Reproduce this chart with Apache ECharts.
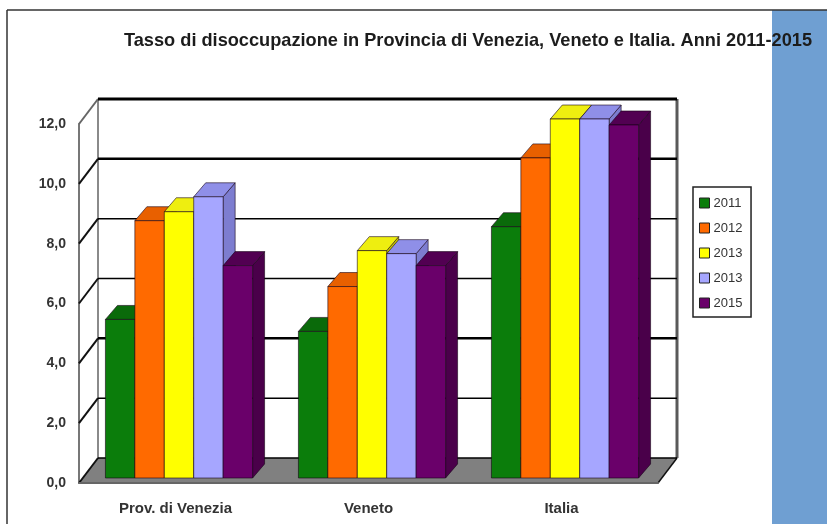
<!DOCTYPE html>
<html><head><meta charset="utf-8">
<style>html,body{margin:0;padding:0;background:#fff}#c{width:827px;height:524px}</style>
<script src="https://cdn.jsdelivr.net/npm/echarts@6/dist/echarts.min.js"></script>
</head><body><div id="c"></div>
<script>
const categories = ["Prov. di Venezia", "Veneto", "Italia"];
const seriesNames = ["2011", "2012", "2013", "2013 ", "2015"];
const v2011 = [5.3, 4.9, 8.4];
const v2012 = [8.6, 6.4, 10.7];
const v2013a = [8.9, 7.6, 12.0];
const v2013b = [9.4, 7.5, 12.0];
const v2015 = [7.1, 7.1, 11.8];
const yTicks = [0, 2, 4, 6, 8, 10, 12];

const allValues = [v2011, v2012, v2013a, v2013b, v2015];
const faces = [
  {front:'#0b7d0b', top:'#0a6a0a', side:'#005200'},
  {front:'#ff6a00', top:'#e86000', side:'#c45000'},
  {front:'#ffff00', top:'#eeee10', side:'#caca00'},
  {front:'#a6a6ff', top:'#8f8fe8', side:'#7d7dd0'},
  {front:'#6a006a', top:'#520052', side:'#4a004a'}
];
const lineWidths = {0:1.5, 2:1.5, 4:2.5, 6:1.5, 8:1.5, 10:2.5, 12:3};
const depth = [19, -25];
const barInset = [3.5, -5];
const barDepth = [12, -14];
const barFrac = 0.1525;

function wallItem(params, api) {
  const v = api.value(0);
  const r = params.coordSys;
  const y = api.coord([0, v])[1];
  const x0 = r.x, x1 = r.x + r.width;
  const kids = [];
  if (v === 0) {
    const yTop = api.coord([0, 12])[1];
    kids.push({type:'polygon', shape:{points:[[x0,y],[x1,y],[x1+depth[0],y+depth[1]],[x0+depth[0],y+depth[1]]]}, style:{fill:'#808080', stroke:null}});
    kids.push({type:'line', shape:{x1:x0+depth[0],y1:y+depth[1],x2:x0+depth[0],y2:yTop+depth[1]}, style:{stroke:'#8a8a8a', lineWidth:2}});
    kids.push({type:'line', shape:{x1:x1+depth[0],y1:y+depth[1],x2:x1+depth[0],y2:yTop+depth[1]}, style:{stroke:'#5a5a5a', lineWidth:3}});
    kids.push({type:'line', shape:{x1:x1,y1:y,x2:x1+depth[0],y2:y+depth[1]}, style:{stroke:'#111', lineWidth:1.5}});
  }
  kids.push({type:'line', shape:{x1:x0,y1:y,x2:x0+depth[0],y2:y+depth[1]}, style:{stroke:v===12?'#666':'#111', lineWidth:2}});
  kids.push({type:'line', shape:{x1:x0+depth[0],y1:y+depth[1],x2:x1+depth[0],y2:y+depth[1]}, style:{stroke:'#000', lineWidth:lineWidths[v]}});
  return {type:'group', children:kids};
}

function barItem(idx) {
  return function (params, api) {
    const c = api.value(0), v = api.value(1);
    const mid = api.coord([c, v]);
    const base = api.coord([c, 0]);
    const w = api.size([1, 0])[0] * barFrac;
    const x = mid[0] + barInset[0] + (idx - 2.5) * w;
    const yt = mid[1] + barInset[1], yb = base[1] + barInset[1];
    const f = faces[idx];
    const dx = barDepth[0], dy = barDepth[1];
    const stroke = {stroke:'rgba(20,0,20,0.65)', lineWidth:0.9, lineJoin:'round'};
    return {type:'group', children:[
      {type:'polygon', shape:{points:[[x+w,yt],[x+w+dx,yt+dy],[x+w+dx,yb+dy],[x+w,yb]]}, style:Object.assign({fill:f.side}, stroke)},
      {type:'polygon', shape:{points:[[x,yt],[x+dx,yt+dy],[x+w+dx,yt+dy],[x+w,yt]]}, style:Object.assign({fill:f.top}, stroke)},
      {type:'rect', shape:{x:x, y:yt, width:w, height:yb-yt}, style:Object.assign({fill:f.front}, stroke)}
    ]};
  };
}

const chart = echarts.init(document.getElementById('c'), null, {renderer:'canvas'});
const font = '"Liberation Sans", Arial, sans-serif';
chart.setOption({
  animation:false,
  backgroundColor:'#fff',
  title:{text:'Tasso di disoccupazione in Provincia di Venezia, Veneto e Italia. Anni 2011-2015',
    left:124, top:32, padding:0, z:20,
    textStyle:{fontFamily:font, fontSize:18.2, fontWeight:'bold', color:'#1c1c1c'}},
  graphic:[
    {type:'rect', z:-1, shape:{x:772,y:10,width:55,height:514}, style:{fill:'#6f9fd2'}},
    {type:'line', z:-1, shape:{x1:7,y1:10,x2:827,y2:10}, style:{stroke:'#333',lineWidth:1.5}},
    {type:'line', z:-1, shape:{x1:7,y1:10,x2:7,y2:524}, style:{stroke:'#333',lineWidth:1.5}}
  ],
  legend:{
    orient:'vertical', left:693, top:187, padding:[9,5,7,6], itemGap:11, itemWidth:10, itemHeight:10,
    backgroundColor:'#fff', borderColor:'#222', borderWidth:1.5, icon:'rect', selectedMode:false,
    itemStyle:{borderColor:'#222', borderWidth:1},
    textStyle:{fontFamily:font, fontSize:13, color:'#333', lineHeight:14, padding:[0,0,0,-1]},
    data:seriesNames
  },
  grid:{left:79, right:169, top:124, bottom:41, containLabel:false},
  xAxis:{type:'category', data:categories, axisTick:{show:false},
    axisLine:{lineStyle:{color:'#666', width:2}},
    axisLabel:{margin:18, fontFamily:font, fontSize:15, fontWeight:'bold', color:'#333'}, z:5},
  yAxis:{type:'value', min:0, max:12, interval:2, splitLine:{show:false},
    axisLine:{show:true, lineStyle:{color:'#777', width:2}}, axisTick:{show:false},
    axisLabel:{margin:13, fontFamily:font, fontSize:14, fontWeight:'bold', color:'#333',
      formatter:v=>v.toFixed(1).replace('.',',')}},
  series:[
    {type:'custom', name:'wall', silent:true, z:1, renderItem:wallItem, encode:{y:0},
     data:yTicks.map(t=>[t])}
  ].concat(seriesNames.map((n,i)=>({
    type:'custom', name:n, z:2+i, renderItem:barItem(i), itemStyle:{color:faces[i].front},
    encode:{x:0,y:1},
    data:allValues[i].map((v,c)=>[c,v])
  })))
});
</script></body></html>
